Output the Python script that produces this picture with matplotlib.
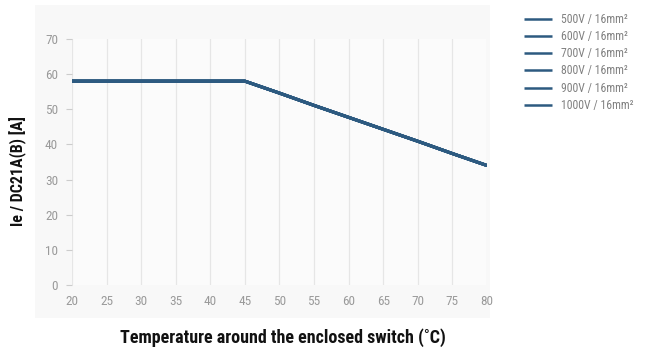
import matplotlib
matplotlib.use("Agg")
import matplotlib.pyplot as plt
from matplotlib.patches import Rectangle

temps = [20, 25, 30, 35, 40, 45, 50, 55, 60, 65, 70, 75, 80]
series_names = ["500V / 16mm²", "600V / 16mm²", "700V / 16mm²",
                "800V / 16mm²", "900V / 16mm²", "1000V / 16mm²"]
current = [58, 58, 58, 58, 58, 58, 54.6, 51.1, 47.7, 44.3, 40.9, 37.4, 34]
yticks = [0, 10, 20, 30, 40, 50, 60, 70]

cond = ["Roboto Condensed", "DejaVu Sans"]

W, H = 656, 349
fig = plt.figure(figsize=(W/100, H/100), dpi=100)
bg = Rectangle((35/W, 1-318/H), (490-35)/W, (318-5)/H,
               transform=fig.transFigure, facecolor="#f8f8f8",
               edgecolor="none", zorder=-10)
fig.add_artist(bg)
ax = fig.add_axes([72/W, 1-285/H, (487-72)/W, (285-39)/H])
ax.set_zorder(1)
ax.set_facecolor("#fbfbfb")

for i, name in enumerate(series_names):
    ax.plot(temps, current, color="#2d5a80", lw=2.2, label=name, solid_capstyle="butt")

ax.set_xlim(20, 80)
ax.set_ylim(0, 70)
ax.set_xticks(temps)
ax.set_yticks(yticks)
ax.grid(axis="x", color="#e6e6e6", lw=0.9)
ax.set_axisbelow(True)
for s in ax.spines.values():
    s.set_visible(False)
ax.tick_params(axis="x", length=0, pad=7, labelsize=9.5, labelcolor="#9a9a9a")
ax.tick_params(axis="y", length=4, color="#cccccc", pad=6, labelsize=9.5, labelcolor="#9a9a9a")
for lab in ax.get_xticklabels() + ax.get_yticklabels():
    lab.set_fontfamily(cond)

fig.text(283/W, 1-338/H, "Temperature around the enclosed switch (˚C)", ha="center", va="center",
         fontsize=13, fontweight="bold", family=cond, color="#111111")
fig.text(18/W, 1-171/H, "Ie / DC21A(B) [A]", rotation=90, ha="center", va="center",
         fontsize=11.5, fontweight="bold", family=cond, color="#111111")

leg = fig.legend(loc="upper left", bbox_to_anchor=(519/W, 1-8/H), frameon=False,
                 prop={"family": cond, "size": 8.5}, handlelength=2.4,
                 labelspacing=0.36, handletextpad=0.76, borderaxespad=0)
for t in leg.get_texts():
    t.set_color("#808080")
for h in leg.get_lines():
    h.set_linewidth(1.8)

fig.savefig("out.png", dpi=100)
